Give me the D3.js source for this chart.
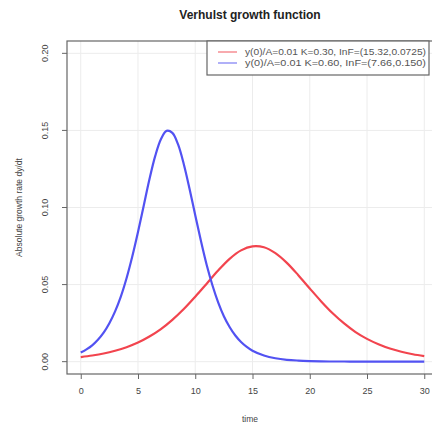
<!DOCTYPE html>
<html><head><meta charset="utf-8">
<script src="https://cdn.jsdelivr.net/npm/d3@7"></script>
<style>body{margin:0;background:#fff}svg{display:block}text{font-family:"Liberation Sans",Arial,sans-serif}</style>
</head><body>
<script>
const title = "Verhulst growth function";
const xLabel = "time";
const yLabel = "Absolute growth rate dy/dt";
const xTicks = [0,5,10,15,20,25,30];
const yTicks = [0,0.05,0.10,0.15,0.20];
const yTickLabels = ["0.00","0.05","0.10","0.15","0.20"];
const seriesNames = ["y(0)/A=0.01 K=0.30, InF=(15.32,0.0725)","y(0)/A=0.01 K=0.60, InF=(7.66,0.150)"];
const seriesColors = ["#f2444e","#5252f2"];
const redT = [0,1,2,3,4,5,6,7,8,9,10,11,12,13,14,15,16,17,18,19,20,21,22,23,24,25,26,27,28,29,30];
const redY = [0.0030,0.0040,0.0053,0.0071,0.0094,0.0124,0.0163,0.0211,0.0271,0.0341,0.0421,0.0506,0.0591,0.0667,0.0722,0.0748,0.0742,0.0704,0.0641,0.0561,0.0475,0.0391,0.0314,0.0248,0.0192,0.0148,0.0113,0.0085,0.0064,0.0048,0.0036];
const blueT = [0,0.5,1,1.5,2,2.5,3,3.5,4,4.5,5,5.5,6,6.5,7,7.5,8,8.5,9,9.5,10,10.5,11,11.5,12,12.5,13,13.5,14,14.5,15,16,17,18,19,20,21,22,23,24,25,26,27,28,29,30];
const blueY = [0.0059,0.0080,0.0106,0.0142,0.0188,0.0249,0.0326,0.0422,0.0541,0.0682,0.0841,0.1012,0.1183,0.1333,0.1443,0.1497,0.1484,0.1409,0.1281,0.1122,0.0950,0.0782,0.0627,0.0496,0.0385,0.0295,0.0225,0.0170,0.0128,0.0096,0.0071,0.0040,0.0022,0.0012,0.0007,0.0004,0.0002,0.0001,0.0001,0,0,0,0,0,0,0];

const W=432,H=427;
const svg=d3.select("body").append("svg").attr("width",W).attr("height",H);
const L=67,R=438,T=41,B=374;
const x=d3.scaleLinear().domain([-1.2,31.2]).range([L,R]);
const y=d3.scaleLinear().domain([-0.008,0.208]).range([B,T]);
const tc="#444";

const g=svg.append("g");
g.selectAll(".gx").data(xTicks).join("line").attr("x1",d=>x(d)).attr("x2",d=>x(d)).attr("y1",T).attr("y2",B).attr("stroke","#ececec").attr("stroke-width",1);
g.selectAll(".gy").data(yTicks).join("line").attr("x1",L).attr("x2",R).attr("y1",d=>y(d)).attr("y2",d=>y(d)).attr("stroke","#ececec").attr("stroke-width",1);

const line=d3.line().x(d=>x(d[0])).y(d=>y(d[1])).curve(d3.curveCatmullRom);
svg.append("path").datum(redT.map((t,i)=>[t,redY[i]])).attr("d",line).attr("fill","none").attr("stroke",seriesColors[0]).attr("stroke-width",2.2);
svg.append("path").datum(blueT.map((t,i)=>[t,blueY[i]])).attr("d",line).attr("fill","none").attr("stroke",seriesColors[1]).attr("stroke-width",2.2);

svg.append("rect").attr("x",L).attr("y",T).attr("width",R-L).attr("height",B-T).attr("fill","none").attr("stroke","#666").attr("stroke-width",1.2);

const xa=svg.append("g").attr("transform",`translate(0,${B})`)
 .call(d3.axisBottom(x).tickValues(xTicks).tickSize(5).tickPadding(9).tickFormat(d3.format("d")));
xa.select(".domain").remove();
xa.selectAll("line").attr("stroke","#666");
xa.selectAll("text").attr("fill",tc).attr("font-size",9);

const ya=svg.append("g").attr("transform",`translate(${L},0)`)
 .call(d3.axisLeft(y).tickValues(yTicks).tickSize(5).tickFormat((d,i)=>yTickLabels[i]));
ya.select(".domain").remove();
ya.selectAll("line").attr("stroke","#666");
ya.selectAll("text").attr("fill",tc).attr("font-size",9).attr("text-anchor","middle")
 .attr("x",0).attr("dy",0).attr("transform",d=>`translate(-19,${y(d)}) rotate(-90)`).attr("y",0);
ya.selectAll(".tick").attr("transform",null);
ya.selectAll(".tick line").attr("y1",d=>y(d)).attr("y2",d=>y(d)).attr("x2",-5);

svg.append("text").attr("x",250).attr("y",19).attr("text-anchor","middle").attr("font-weight","bold").attr("font-size",12).attr("fill","#222").text(title);
svg.append("text").attr("x",250).attr("y",422).attr("text-anchor","middle").attr("font-size",8.5).attr("fill",tc).text(xLabel);
svg.append("text").attr("transform",`translate(22,${(T+B)/2}) rotate(-90)`).attr("text-anchor","middle").attr("font-size",8.5).attr("fill",tc).text(yLabel);

const lg=svg.append("g");
lg.append("rect").attr("x",207).attr("y",T).attr("width",222).attr("height",34).attr("fill","#fff").attr("stroke","#666").attr("stroke-width",1.2);
seriesNames.forEach((n,i)=>{
  const ly=T+11+i*11;
  lg.append("line").attr("x1",218).attr("x2",237).attr("y1",ly).attr("y2",ly).attr("stroke",seriesColors[i]).attr("stroke-width",1.5).attr("opacity",0.6);
  lg.append("text").attr("x",245).attr("y",ly+3).attr("font-size",8.5).attr("fill","#555").attr("textLength",181).attr("lengthAdjust","spacingAndGlyphs").text(n);
});
</script>
</body></html>
